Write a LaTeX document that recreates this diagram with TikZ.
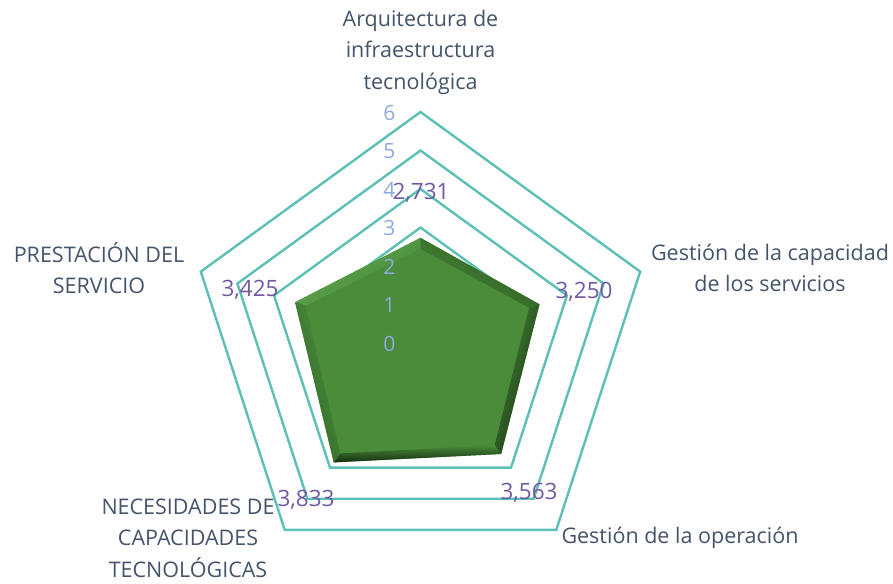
\documentclass[tikz,border=0pt]{standalone}
\usepackage{fontspec}
\setmainfont{Open Sans}
\definecolor{ringteal}{RGB}{92,192,180}
\definecolor{catgray}{RGB}{68,84,106}
\definecolor{ticklblue}{RGB}{142,169,219}
\definecolor{valpurple}{RGB}{112,88,163}
\definecolor{basegreen}{RGB}{74,140,58}

\begin{document}
\begin{tikzpicture}[x=1pt,y=1pt,
  ring/.style={ringteal,line width=2.4pt,line join=miter},
  cat/.style={text=catgray,font=\fontsize{21.5}{31.5}\selectfont,align=center},
  tick/.style={text=ticklblue,font=\fontsize{21}{22}\selectfont},
  val/.style={text=valpurple,font=\fontsize{22.5}{22}\selectfont}]
\useasboundingbox (-420.5,-240) rectangle (472.5,343);
\def\u{38.5}
\coordinate (o) at (0,0);

%\draw[gray] (-420.5,-240) grid[step=50] (472.5,343);
\foreach \r in {3,...,6}
  \draw[ring] (90:{\r*\u}) -- (18:{\r*\u}) -- (-54:{\r*\u}) -- (-126:{\r*\u}) -- (162:{\r*\u}) -- cycle;

\coordinate (a) at (90:{2.731*\u});
\coordinate (b) at (18:{3.250*\u});
\coordinate (c) at (-54:{3.563*\u});
\coordinate (d) at (-126:{3.833*\u});
\coordinate (e) at (162:{3.425*\u});

\coordinate (ia) at (90:{2.731*\u-11});
\coordinate (ib) at (18:{3.250*\u-11});
\coordinate (ic) at (-54:{3.563*\u-11});
\coordinate (id) at (-126:{3.833*\u-11});
\coordinate (ie) at (162:{3.425*\u-11});

\fill[basegreen] (a) -- (b) -- (c) -- (d) -- (e) -- cycle;
\shade[top color={rgb,255:red,95;green,165;blue,80},middle color={rgb,255:red,150;green,218;blue,130},bottom color=basegreen,shading angle=36] (e) -- (a) -- (ia) -- (ie) -- cycle;
\shade[top color={rgb,255:red,40;green,85;blue,30},bottom color=basegreen,shading angle=-36] (a) -- (b) -- (ib) -- (ia) -- cycle;
\shade[top color={rgb,255:red,18;green,40;blue,14},bottom color=basegreen,shading angle=-108] (b) -- (c) -- (ic) -- (ib) -- cycle;
\shade[top color={rgb,255:red,22;green,46;blue,16},bottom color=basegreen,shading angle=180] (c) -- (d) -- (id) -- (ic) -- cycle;
\shade[top color={rgb,255:red,45;green,95;blue,36},bottom color={rgb,255:red,82;green,152;blue,66},shading angle=108] (d) -- (e) -- (ie) -- (id) -- cycle;

\foreach \k in {0,...,6}
  \node[tick] (t\k) at (-31,{\k*\u-1}) {\k};

\node[val] (va) at (0.5,150) {2,731};
\node[val] (vb) at (163.5,51) {3,250};
\node[val] (vc) at (108.5,-150) {3,563};
\node[val] (vd) at (-114.5,-157) {3,833};
\node[val] (ve) at (-170.5,53) {3,425};

\node[cat] (la) at (0,291) {Arquitectura de\\infraestructura\\tecnológica};
\node[cat] (lb) at (349.5,75) {Gestión de la capacidad\\de los servicios};
\node[cat] (lc) at (259.5,-195) {Gestión de la operación};
\node[cat] (ld) at (-232.5,-195) {NECESIDADES DE\\CAPACIDADES\\TECNOLÓGICAS};
\node[cat] (le) at (-321.5,75) {PRESTACIÓN DEL\\SERVICIO};
\end{tikzpicture}
\end{document}
